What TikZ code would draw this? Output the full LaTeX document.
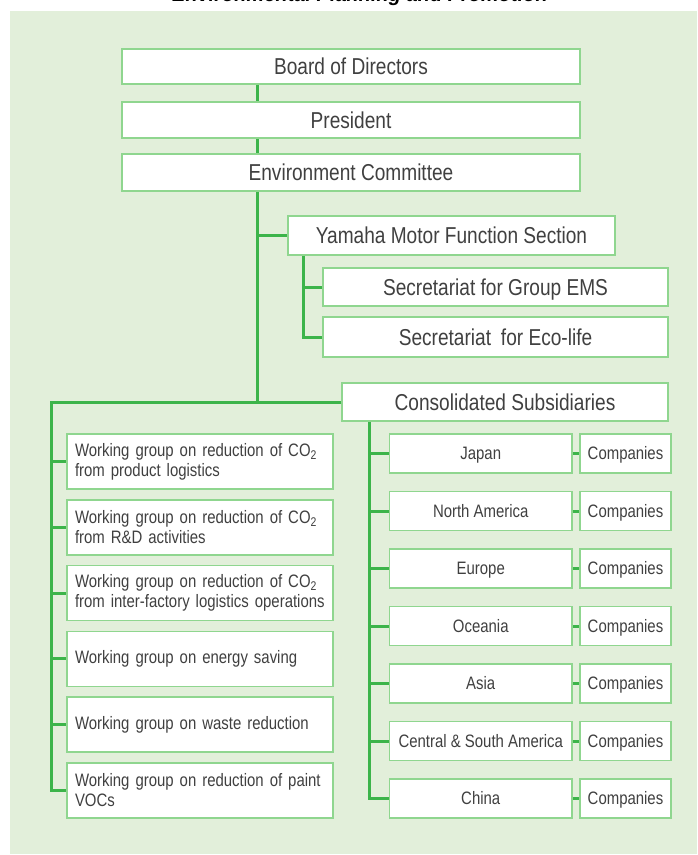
\documentclass[tikz,border=0pt]{standalone}
\usepackage{fontspec}
\setmainfont[FakeStretch=0.83]{Liberation Sans}
\newfontfamily\titlefont{Liberation Sans}
\definecolor{bgc}{HTML}{E2EFDA}
\definecolor{boxc}{HTML}{8FD68F}
\definecolor{linec}{HTML}{3CB44A}
\definecolor{txt}{HTML}{404040}
\newcommand{\bigf}{\fontsize{23}{26}\selectfont}
\newcommand{\smallf}{\fontsize{18}{20}\selectfont}
\tikzset{
  box/.style={draw=boxc, line width=1.5pt, fill=white, inner sep=0pt, text=txt, font=\bigf, text height=16.5pt, text depth=0pt},
  wgbox/.style={draw=boxc, line width=1.5pt, fill=white, text=txt, font=\smallf, minimum width=266pt, minimum height=55pt, text width=250pt, align=left, inner xsep=8pt, inner ysep=0pt},
  regbox/.style={box, font=\smallf, text height=12.9pt, minimum width=182.5pt, minimum height=39pt},
  compbox/.style={box, font=\smallf, text height=12.9pt, minimum width=91pt, minimum height=39pt},
  link/.style={draw=linec, line width=3pt},
}
\begin{document}
\begin{tikzpicture}[x=1pt,y=-1pt]
\useasboundingbox (0,0) rectangle (697,855);
\clip (0,0) rectangle (697,855);
\fill[bgc] (10,11) rectangle (697,854);
\node[font=\titlefont\bfseries\itshape\fontsize{20}{22}\selectfont, anchor=base] (title) at (360,1.5) {Environmental Planning and Promotion};
% coordinates for vertical lines
\coordinate (mx) at (257,0);
\coordinate (lx) at (51,0);
\coordinate (sx) at (303,0);
\coordinate (rx) at (369,0);
% top boxes
\node[box, minimum width=458pt, minimum height=35pt] (board) at (351,66.5) {Board of Directors};
\node[box, minimum width=458pt, minimum height=36pt] (pres) at (351,120) {President};
\node[box, minimum width=458pt, minimum height=37pt] (env) at (351,172.5) {Environment Committee};
\node[box, minimum width=327pt, minimum height=39pt] (yam) at (451.5,235.5) {Yamaha Motor Function Section};
\node[box, minimum width=345pt, minimum height=38pt] (ems) at (495.5,287) {Secretariat for Group EMS};
\node[box, minimum width=345pt, minimum height=40pt] (eco) at (495.5,337) {Secretariat\hspace{0.2em} for Eco-life};
\node[box, minimum width=326pt, minimum height=38pt] (cons) at (505,402) {Consolidated Subsidiaries};
% working groups
\node[wgbox] (wg1) at (200,461.5) {Working group on reduction of CO\textsubscript{2}\\from product logistics};
\node[wgbox] (wg2) at (200,527.3) {Working group on reduction of CO\textsubscript{2}\\from R\&D activities};
\node[wgbox] (wg3) at (200,593.1) {Working group on reduction of CO\textsubscript{2}\\from inter-factory logistics operations};
\node[wgbox] (wg4) at (200,658.9) {Working group on energy saving};
\node[wgbox] (wg5) at (200,724.7) {Working group on waste reduction};
\node[wgbox] (wg6) at (200,790.5) {Working group on reduction of paint\\VOCs};
% regions
\node[regbox] (r1) at (480.75,453.5) {Japan};
\node[regbox] (r2) at (480.75,511) {North America};
\node[regbox] (r3) at (480.75,568.5) {Europe};
\node[regbox] (r4) at (480.75,626) {Oceania};
\node[regbox] (r5) at (480.75,683.5) {Asia};
\node[regbox] (r6) at (480.75,741) {Central \& South America};
\node[regbox] (r7) at (480.75,798.5) {China};
\node[compbox] (c1) at (625.5,453.5) {Companies};
\node[compbox] (c2) at (625.5,511) {Companies};
\node[compbox] (c3) at (625.5,568.5) {Companies};
\node[compbox] (c4) at (625.5,626) {Companies};
\node[compbox] (c5) at (625.5,683.5) {Companies};
\node[compbox] (c6) at (625.5,741) {Companies};
\node[compbox] (c7) at (625.5,798.5) {Companies};
% connectors
\draw[link] (mx |- board.south) -- (mx |- pres.north);
\draw[link] (mx |- pres.south) -- (mx |- env.north);
\draw[link] (mx |- env.south) -- (mx |- cons.west);
\draw[link] (mx |- yam.west) -- (yam.west);
\draw[link] (sx |- yam.south) -- (sx |- eco.west) -- (eco.west);
\draw[link] (sx |- ems.west) -- (ems.west);
\draw[link] (cons.west) -- (lx |- cons.west) -- (lx |- wg6.west) -- (wg6.west);
\foreach \w in {wg1,wg2,wg3,wg4,wg5} \draw[link] (lx |- \w.west) -- (\w.west);
\draw[link] (rx |- cons.south) -- (rx |- r7.west) -- (r7.west);
\foreach \r in {r1,r2,r3,r4,r5,r6} \draw[link] (rx |- \r.west) -- (\r.west);
\foreach \i in {1,...,7} \draw[link] (r\i.east) -- (c\i.west);
\end{tikzpicture}
\end{document}
